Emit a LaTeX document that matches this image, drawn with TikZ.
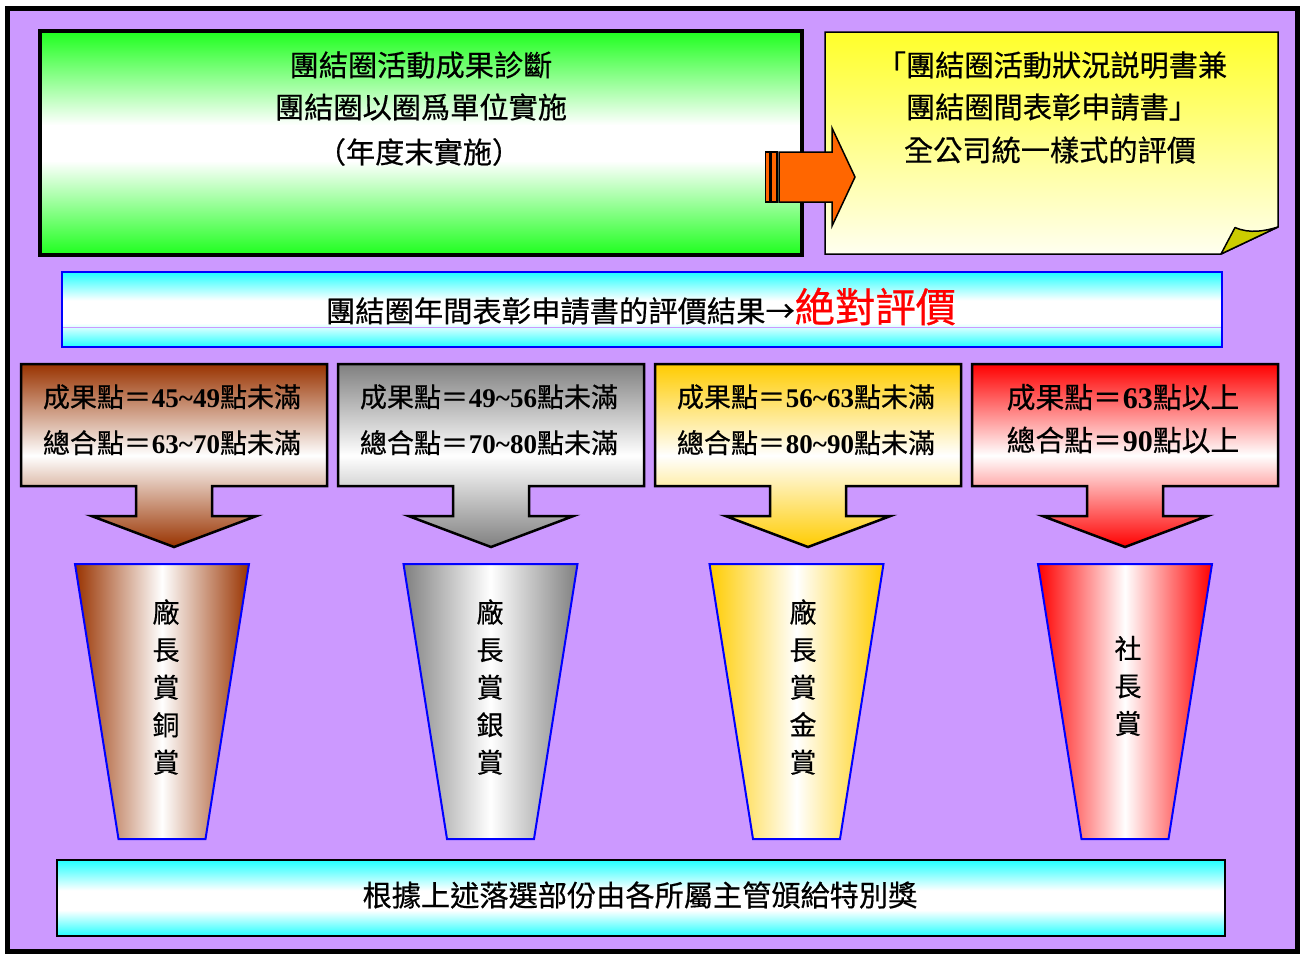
\documentclass[tikz,border=0pt]{standalone}
\usepackage{fontspec}
\setmainfont{Noto Sans CJK TC}[FakeBold=0.5]
\newfontfamily\numfont{Liberation Serif}
\definecolor{bgpurple}{HTML}{CC99FF}
\definecolor{gboxgreen}{HTML}{1EFF1E}
\definecolor{bandcyan}{HTML}{22FFFF}
\definecolor{yeltop}{HTML}{FFFF2A}
\definecolor{yelbot}{HTML}{FFFFF0}
\definecolor{foldcol}{HTML}{CCCC00}
\definecolor{arroworange}{HTML}{FF6600}
\definecolor{cbrown}{HTML}{993300}
\definecolor{cgray}{HTML}{808080}
\definecolor{cgold}{HTML}{FFCC00}
\definecolor{cred}{HTML}{FF0000}
\pgfdeclareverticalshading{greenshade}{100bp}{color(0bp)=(gboxgreen); color(25bp)=(gboxgreen); color(46bp)=(white); color(54bp)=(white); color(75bp)=(gboxgreen); color(100bp)=(gboxgreen)}
\pgfdeclareverticalshading{bandshade}{100bp}{color(0bp)=(bandcyan); color(25bp)=(bandcyan); color(41bp)=(white); color(56bp)=(white); color(75bp)=(bandcyan); color(100bp)=(bandcyan)}
\pgfdeclareverticalshading{bottomshade}{100bp}{color(0bp)=(bandcyan); color(25bp)=(bandcyan); color(42bp)=(white); color(55bp)=(white); color(75bp)=(bandcyan); color(100bp)=(bandcyan)}
\newcommand{\nf}[1]{{\numfont\bfseries #1}}
\newcommand{\tl}{{\numfont\bfseries\char"7E}}
\tikzset{
  bigtxt/.style={inner sep=0pt, font=\fontsize{29.2}{34}\selectfont},
  boxtxt/.style={inner sep=0pt, anchor=base, font=\fontsize{27}{30}\selectfont},
  boxtxtb/.style={inner sep=0pt, anchor=base, font=\fontsize{28.8}{30}\selectfont},
  cuptxt/.style={inner sep=0pt, align=center, font=\fontsize{27}{37.5}\selectfont},
  callout/.style={draw=black, line width=2.5pt, line join=miter},
  cup/.style={draw=blue, line width=2pt, line join=miter},
  orangebar/.style={draw=black, line width=1.5pt, fill=arroworange}
}
\begin{document}
\begin{tikzpicture}[x=1pt, y=-1pt]
\useasboundingbox (0,0) rectangle (1301,954);
% outer frame
\draw[line width=5pt, fill=bgpurple] (7,8.5) rectangle (1297.5,951);
% green box
\path[shade, shading=greenshade, draw=black, line width=4pt] (40,31) rectangle (802,255);
% yellow note
\path[draw=black, line width=1.5pt, top color=yeltop, bottom color=yelbot, line join=miter]
  (825,32) -- (1278,32) -- (1278,227) -- (1221,254) -- (825,254) -- cycle;
\draw[fill=foldcol, line width=1.5pt, line join=round] (1221,254) -- (1235,227.5) .. controls (1250,234) and (1265,231) .. (1278,227) -- cycle;
% orange arrow
\draw[orangebar] (765.5,152) rectangle (770,202);
\draw[orangebar] (771.5,152) rectangle (777,202);
\draw[orangebar, line join=miter] (779,152) -- (832,152) -- (832,128) -- (855,177) -- (832,226) -- (832,202) -- (779,202) -- cycle;
% band
\path[shade, shading=bandshade, draw=blue, line width=2pt] (62,272) rectangle (1222,347);
\draw[bgpurple, line width=1pt] (63,327) -- (1221,327);
% callout boxes
\foreach \cx/\cc in {174/cbrown, 491/cgray, 808/cgold, 1125/cred}{
  \path[callout, top color=\cc, bottom color=\cc, middle color=white]
   (\cx-153,364) -- (\cx+153,364) -- (\cx+153,486) -- (\cx+38,486) -- (\cx+38,516) -- (\cx+82.5,516) -- (\cx,547) -- (\cx-82.5,516) -- (\cx-38,516) -- (\cx-38,486) -- (\cx-153,486) -- cycle;
}
% cups
\foreach \cx/\cc in {162/cbrown, 490.5/cgray, 796.5/cgold, 1125/cred}{
  \path[cup, left color=\cc, right color=\cc, middle color=white]
   (\cx-87,564) -- (\cx+87,564) -- (\cx+43.5,839) -- (\cx-43.5,839) -- cycle;
}
% bottom band
\path[shade, shading=bottomshade, draw=black, line width=2pt] (57,860) rectangle (1225,936);

% texts
\node[bigtxt] (g1) at (421,65) {團結圈活動成果診斷};
\node[bigtxt] (g2) at (421,107) {團結圈以圈爲單位實施};
\node[bigtxt] (g3) at (419,152) {（年度末實施）};
\node[bigtxt] (y1) at (1052,65) {「團結圈活動狀況説明書兼};
\node[bigtxt] (y2) at (1052,107) {團結圈間表彰申請書」};
\node[bigtxt] (y3) at (1050,150) {全公司統一樣式的評價};
\node[inner sep=0pt, anchor=base] (bandtxt) at (641,322) {\fontsize{29.3}{34}\selectfont 團結圈年間表彰申請書的評價結果→\textcolor{red}{\fontsize{40.3}{44}\selectfont 絶對評價}};

\node[boxtxt] (b1a) at (172,407) {成果點＝\kern1pt\nf{45}\tl\nf{49}點未滿};
\node[boxtxt] (b1b) at (172,453) {總合點＝\kern1pt\nf{63}\tl\nf{70}點未滿};
\node[boxtxt] (b2a) at (489,407) {成果點＝\kern1pt\nf{49}\tl\nf{56}點未滿};
\node[boxtxt] (b2b) at (489,453) {總合點＝\kern1pt\nf{70}\tl\nf{80}點未滿};
\node[boxtxt] (b3a) at (806,407) {成果點＝\kern1pt\nf{56}\tl\nf{63}點未滿};
\node[boxtxt] (b3b) at (806,453) {總合點＝\kern1pt\nf{80}\tl\nf{90}點未滿};
\node[boxtxtb] (b4a) at (1123,408) {成果點＝\kern1pt{\fontsize{30}{30}\selectfont\nf{63}}點以上};
\node[boxtxtb] (b4b) at (1123,451) {總合點＝\kern1pt{\fontsize{30}{30}\selectfont\nf{90}}點以上};

\node[cuptxt] (c1) at (166,687) {廠\\長\\賞\\銅\\賞};
\node[cuptxt] (c2) at (490,687) {廠\\長\\賞\\銀\\賞};
\node[cuptxt] (c3) at (803,687) {廠\\長\\賞\\金\\賞};
\node[cuptxt] (c4) at (1128,686) {社\\長\\賞};

\node[bigtxt] (bt) at (640,895) {根據上述落選部份由各所屬主管頒給特別獎};
\end{tikzpicture}
\end{document}
